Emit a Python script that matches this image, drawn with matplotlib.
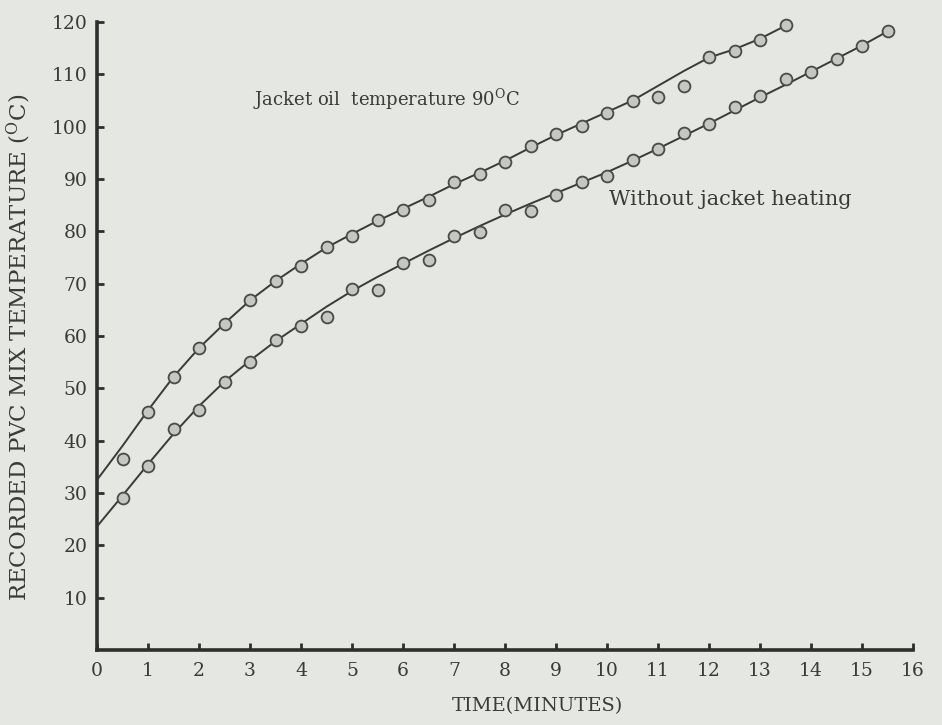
import matplotlib
matplotlib.use("Agg")
import matplotlib.pyplot as plt

# ---- data ----
time_jacket = [0.5, 1.0, 1.5, 2.0, 2.5, 3.0, 3.5, 4.0, 4.5, 5.0, 5.5, 6.0, 6.5, 7.0,
               7.5, 8.0, 8.5, 9.0, 9.5, 10.0, 10.5, 11.0, 11.5, 12.0, 12.5, 13.0, 13.5]
temp_jacket = [36.5, 45.4, 52.1, 57.8, 62.3, 66.9, 70.6, 73.4, 77.0, 79.1, 82.1, 84.1,
               85.9, 89.5, 90.9, 93.3, 96.3, 98.6, 100.2, 102.7, 105.0, 105.7, 107.7,
               113.3, 114.5, 116.5, 119.4]

time_nojacket = [0.5, 1.0, 1.5, 2.0, 2.5, 3.0, 3.5, 4.0, 4.5, 5.0, 5.5, 6.0, 6.5, 7.0,
                 7.5, 8.0, 8.5, 9.0, 9.5, 10.0, 10.5, 11.0, 11.5, 12.0, 12.5, 13.0,
                 13.5, 14.0, 14.5, 15.0, 15.5]
temp_nojacket = [29.1, 35.2, 42.2, 45.9, 51.2, 55.1, 59.3, 62.0, 63.6, 69.0, 68.7, 73.9,
                 74.6, 79.2, 79.8, 84.1, 83.9, 87.0, 89.4, 90.6, 93.7, 95.7, 98.7, 100.6,
                 103.8, 105.8, 109.1, 110.4, 113.0, 115.5, 118.2]

# hand-drawn curves through the points
curve_time_jacket = [0.0, 0.5, 1.0, 1.5, 2.0, 2.5, 3.0, 3.5, 4.0, 4.5, 5.0, 5.5, 6.0, 6.5,
                     7.0, 7.5, 8.0, 8.5, 9.0, 9.5, 10.0, 10.5, 11.0, 11.5, 12.0, 12.5,
                     13.0, 13.5]
curve_temp_jacket = [32.5, 39.0, 45.8, 52.2, 57.7, 62.4, 66.8, 70.5, 73.8, 76.9, 79.5,
                     82.0, 84.3, 86.6, 89.0, 91.2, 93.5, 96.0, 98.4, 100.6, 102.8, 105.0,
                     107.8, 110.6, 113.2, 114.8, 116.8, 119.3]
curve_time_nojacket = [0.0, 0.5, 1.0, 1.5, 2.0, 2.5, 3.0, 3.5, 4.0, 4.5, 5.0, 5.5, 6.0,
                       6.5, 7.0, 7.5, 8.0, 8.5, 9.0, 9.5, 10.0, 10.5, 11.0, 11.5, 12.0,
                       12.5, 13.0, 13.5, 14.0, 14.5, 15.0, 15.5]
curve_temp_nojacket = [23.6, 29.5, 35.5, 41.3, 46.6, 51.3, 55.3, 59.0, 62.3, 65.6, 68.6,
                       71.3, 73.8, 76.3, 78.7, 81.0, 83.2, 85.3, 87.3, 89.3, 91.3, 93.5,
                       95.8, 98.2, 100.6, 103.1, 105.6, 108.0, 110.5, 113.0, 115.5, 118.2]

x_ticks = list(range(0, 17))
y_ticks = [10, 20, 30, 40, 50, 60, 70, 80, 90, 100, 110, 120]

label_jacket = "Jacket oil  temperature 90$^{\\mathrm{O}}$C"
label_nojacket = "Without jacket heating"
x_label = "TIME(MINUTES)"
y_label = "RECORDED PVC MIX TEMPERATURE ($^{\\mathrm{O}}$C)"

# ---- style ----
plt.rcParams["font.family"] = ["DejaVu Serif"]
plt.rcParams["mathtext.fontset"] = "dejavuserif"

bg = "#e4e7e2"
ink = "#2e2e2e"
txt = "#3a3a3a"

fig = plt.figure(figsize=(9.42, 7.25), dpi=100, facecolor=bg)
ax = fig.add_axes([97 / 942, 75 / 725, (913 - 97) / 942, (650 - 22) / 725])
ax.set_facecolor(bg)

line_kw = dict(color="#3a3a3a", lw=1.4, zorder=2, clip_on=False)
ax.plot(curve_time_jacket, curve_temp_jacket, **line_kw)
ax.plot(curve_time_nojacket, curve_temp_nojacket, **line_kw)

mk_kw = dict(linestyle="none", marker="o", markersize=8.5, markerfacecolor="#c4c8c3",
             markeredgecolor="#4a4a4a", markeredgewidth=1.3, zorder=3, clip_on=False)
ax.plot(time_jacket, temp_jacket, **mk_kw)
ax.plot(time_nojacket, temp_nojacket, **mk_kw)

ax.set_xlim(0, 16)
ax.set_ylim(0, 120)
ax.set_xticks(x_ticks)
ax.set_yticks(y_ticks)
ax.set_xticklabels([str(t) for t in x_ticks])
ax.set_yticklabels([str(t) for t in y_ticks])

for s in ["top", "right"]:
    ax.spines[s].set_visible(False)
for s in ["left", "bottom"]:
    ax.spines[s].set_linewidth(2.6)
    ax.spines[s].set_color(ink)

ax.tick_params(axis="both", direction="in", length=5, width=2, color=ink,
               labelcolor=txt, labelsize=13.5)
ax.tick_params(axis="y", pad=7)
ax.tick_params(axis="x", pad=9)

ax.set_xlabel(x_label, fontsize=14, color=txt)
ax.xaxis.set_label_coords(0.54, -0.075)
ax.set_ylabel(y_label, fontsize=16.5, color=txt)
ax.yaxis.set_label_coords(-0.078, 0.482)

ax.text(3.05, 105.2, label_jacket, fontsize=13, color=txt, va="center", ha="left")
ax.text(10.04, 86.0, label_nojacket, fontsize=15, color=txt, va="center", ha="left")

fig.savefig("out.png", dpi=100, facecolor=bg)
